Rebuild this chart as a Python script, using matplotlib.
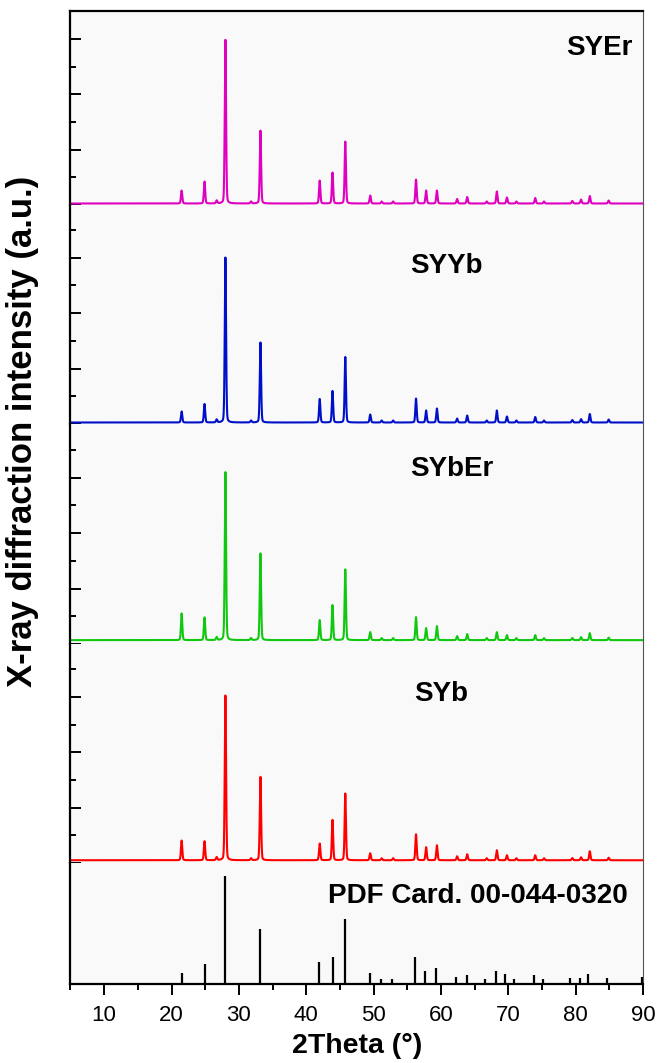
import matplotlib

matplotlib.use("Agg")
import matplotlib.pyplot as plt
import numpy as np
from matplotlib.ticker import MultipleLocator, NullFormatter

plt.rcParams["font.family"] = ["Liberation Sans", "DejaVu Sans"]

# ---------------------------------------------------------------- data
# reflections seen in the measured patterns (2theta, deg)
peak_pos = [21.5, 24.9, 26.7, 28.0, 31.8, 33.2, 42.0, 43.9, 45.8, 49.5, 51.2,
            52.9, 56.3, 57.8, 59.4, 62.4, 63.9, 66.8, 68.3, 69.8, 71.2, 74.0,
            75.3, 79.5, 80.8, 82.1, 84.9]

# peak heights above background (a.u.)
syer_int = [235, 397, 54, 2960, 36, 1318, 415, 560, 1119, 144, 36,
            36, 433, 235, 235, 81, 117, 36, 217, 108, 36, 99,
            36, 45, 72, 135, 54]
syyb_int = [199, 334, 54, 2978, 36, 1444, 424, 569, 1182, 144, 36,
            36, 433, 217, 253, 72, 126, 36, 217, 108, 36, 99,
            36, 45, 60, 153, 54]
syber_int = [482, 410, 54, 3032, 36, 1565, 361, 632, 1276, 144, 36,
             36, 415, 217, 253, 72, 108, 36, 144, 90, 36, 90,
             36, 40, 54, 126, 45]
syb_int = [356, 343, 54, 2973, 36, 1505, 301, 729, 1204, 126, 36,
           36, 469, 235, 271, 72, 108, 36, 181, 90, 36, 90,
           36, 40, 54, 162, 45]
backgrounds = [27, 27, 70, 50]

# PDF card 00-044-0320 stick pattern
pdf_pos = [21.5, 24.9, 28.0, 33.1, 41.9, 43.9, 45.8, 49.4, 51.1, 52.8, 56.1,
           57.7, 59.2, 62.3, 63.8, 66.6, 68.1, 69.5, 70.9, 73.8, 75.1, 79.2,
           80.7, 81.9, 84.7, 89.9]
pdf_int = [10.5, 18.5, 100, 50.6, 20, 25.3, 60.5, 10.5, 4.3, 4.3, 25.3,
           12.3, 14.5, 6.5, 8.3, 4.3, 12.3, 9.3, 4.3, 8.3, 4.3, 5.6,
           5.6, 9.3, 5.6, 6.5]

samples = ["SYEr", "SYYb", "SYbEr", "SYb"]
colors = ["#e000c0", "#0010c8", "#10c810", "#ff0000"]
intensities = [syer_int, syyb_int, syber_int, syb_int]


def pattern(tt, pos, hts, bg):
    """Pseudo-Voigt peaks on a flat background."""
    y = np.full_like(tt, float(bg))
    w = 0.1
    for p, h in zip(pos, hts):
        d = (tt - p) / w
        y += h * (0.75 * np.exp(-0.5 * d * d) + 0.25 / (1 + d * d))
    return y


tt = np.arange(5, 90.001, 0.01)

# ---------------------------------------------------------------- figure
fig = plt.figure(figsize=(6.57, 10.63), dpi=100)
gs = fig.add_gridspec(5, 1, left=0.1073, right=0.9787, top=0.9892, bottom=0.0743,
                      hspace=0, height_ratios=[193.5, 219, 220, 219, 121])
ylims = [3500, 3953, 3971, 3953]
label_xy = [(88.4, 0.775, "right"), (55.5, 0.69, "left"),
            (55.5, 0.765, "left"), (56.0, 0.74, "left")]
BG = "#f9f9f9"

axes = []
for i in range(5):
    ax = fig.add_subplot(gs[i])
    ax.set_facecolor(BG)
    ax.set_xlim(5, 90)
    ax.xaxis.set_major_locator(MultipleLocator(10))
    ax.xaxis.set_minor_locator(MultipleLocator(5))
    for s in ("top", "bottom"):
        ax.spines[s].set_visible(False)
    ax.spines["left"].set_linewidth(1.6)
    ax.spines["right"].set_linewidth(0.8)
    ax.spines["right"].set_color("#555555")
    axes.append(ax)

for i, ax in enumerate(axes[:4]):
    y = pattern(tt, peak_pos, intensities[i], backgrounds[i])
    ax.plot(tt, y, color=colors[i], lw=1.5, clip_on=False)
    ax.set_ylim(0, ylims[i])
    ax.yaxis.set_major_locator(MultipleLocator(1000))
    ax.yaxis.set_minor_locator(MultipleLocator(500))
    ax.yaxis.set_major_formatter(NullFormatter())
    ax.tick_params(axis="y", which="major", direction="in", length=8, width=1.4)
    ax.tick_params(axis="y", which="minor", direction="in", length=4, width=1.4)
    ax.tick_params(axis="x", which="both", bottom=False, labelbottom=False)
    lx, ly, ha = label_xy[i]
    ax.text(lx, ly, samples[i], transform=ax.get_xaxis_transform(), ha=ha,
            va="baseline", fontsize=20, fontweight="bold")

axes[0].spines["top"].set_visible(True)
axes[0].spines["top"].set_linewidth(1.6)

ref = axes[4]
ref.vlines(pdf_pos, 0, pdf_int, color="black", lw=1.6)
ref.set_ylim(0, 112)
ref.set_yticks([])
ref.spines["bottom"].set_visible(True)
ref.spines["bottom"].set_linewidth(1.6)
ref.tick_params(axis="x", which="major", direction="out", length=8, width=1.4,
                labelsize=16, pad=7)
ref.tick_params(axis="x", which="minor", direction="out", length=4, width=1.4)
ref.text(87.8, 0.67, "PDF Card. 00-044-0320", transform=ref.get_xaxis_transform(),
         ha="right", va="baseline", fontsize=20, fontweight="bold")
ref.set_xlabel("2Theta (°)", fontsize=20.5, fontweight="bold", labelpad=5)

fig.text(0.034, 0.594, "X-ray diffraction intensity (a.u.)", rotation=90,
         ha="center", va="center", fontsize=25, fontweight="bold")

fig.savefig("out.png", dpi=100, facecolor="white")
